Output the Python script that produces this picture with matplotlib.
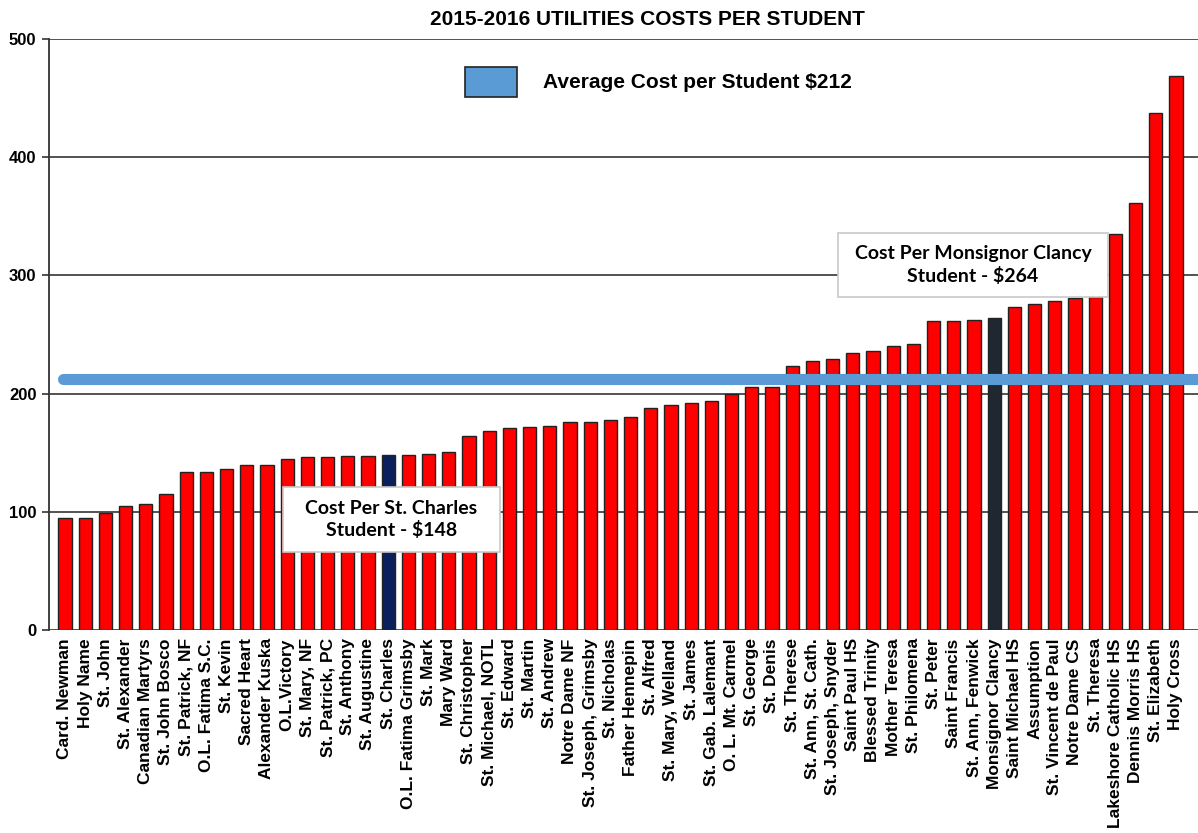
import numpy as np
import matplotlib
matplotlib.use("Agg")
import matplotlib.pyplot as plt
from matplotlib.patches import Rectangle

schools = ["Card. Newman", "Holy Name", "St. John", "St. Alexander", "Canadian Martyrs",
           "St. John Bosco", "St. Patrick, NF", "O.L. Fatima S.C.", "St. Kevin", "Sacred Heart",
           "Alexander Kuska", "O.L.Victory", "St. Mary, NF", "St. Patrick, PC", "St. Anthony",
           "St. Augustine", "St. Charles", "O.L. Fatima Grimsby", "St. Mark", "Mary Ward",
           "St. Christopher", "St. Michael, NOTL", "St. Edward", "St. Martin", "St. Andrew",
           "Notre Dame NF", "St. Joseph, Grimsby", "St. Nicholas", "Father Hennepin", "St. Alfred",
           "St. Mary, Welland", "St. James", "St. Gab. Lalemant", "O. L. Mt. Carmel", "St. George",
           "St. Denis", "St. Therese", "St. Ann, St. Cath.", "St. Joseph, Snyder", "Saint Paul HS",
           "Blessed Trinity", "Mother Teresa", "St. Philomena", "St. Peter", "Saint Francis",
           "St. Ann, Fenwick", "Monsignor Clancy", "Saint Michael HS", "Assumption",
           "St. Vincent de Paul", "Notre Dame CS", "St. Theresa", "Lakeshore Catholic HS",
           "Dennis Morris HS", "St. Elizabeth", "Holy Cross"]

cost = [95, 95, 99, 105, 107, 115, 134, 134, 136, 140,
        140, 145, 146, 146, 147, 147, 148, 148, 149, 151,
        164, 168, 171, 172, 173, 176, 176, 178, 180, 188,
        190, 192, 194, 200, 206, 206, 223, 228, 229, 234,
        236, 240, 242, 261, 261, 262, 264, 273, 276, 278,
        281, 282, 335, 361, 437, 469]

average = 212
highlight = {"St. Charles": "#0b1f5c", "Monsignor Clancy": "#1f2731"}

plt.rcParams['font.family'] = ['Liberation Sans', 'DejaVu Sans']

W, H = 1198, 833
fig = plt.figure(figsize=(W / 100, H / 100), dpi=100)
ax = fig.add_axes([49 / W, 1 - 630 / H, 1 - 49 / W, (630 - 39) / H])

x = np.arange(len(schools))
colors = [highlight.get(s, "#ff0000") for s in schools]
ax.bar(x, cost, width=0.65, color=colors, edgecolor="#222222", linewidth=1.0, zorder=2)

# average line
ax.plot([-0.1, len(schools) + 2], [average, average], color="#5b9bd5", linewidth=8,
        solid_capstyle="round", zorder=3, clip_on=False)

ax.set_xlim(-0.79, 56.09)
ax.set_ylim(0, 500)
ax.set_yticks(range(0, 501, 100))
ax.yaxis.grid(True, color="#444444", linewidth=1.3, zorder=0)
ax.set_axisbelow(True)
for side in ["top", "right", "bottom"]:
    ax.spines[side].set_visible(False)
ax.spines["left"].set_color("#333333")
ax.spines["left"].set_linewidth(1.3)
ax.tick_params(axis="y", length=5, width=1.2, color="#333333", labelsize=12, pad=4)
ax.tick_params(axis="x", length=0, pad=6)
ax.set_xticks(x)
ax.set_xticklabels(schools, rotation=90, fontsize=12.5, fontweight="bold")
for lab in ax.get_yticklabels():
    lab.set_fontweight("bold")

fig.text(647 / W, 1 - 19.5 / H, "2015-2016 UTILITIES COSTS PER STUDENT", ha="center",
         va="center", fontsize=15, fontweight="bold")

# legend-like key
fig.patches.append(Rectangle((465 / W, 1 - 97 / H), 52 / W, 30 / H,
                             transform=fig.transFigure, facecolor="#5b9bd5",
                             edgecolor="#222222", linewidth=1.2))
fig.text(543 / W, 1 - 82 / H, "Average Cost per Student $212", ha="left", va="center",
         fontsize=15, fontweight="bold")

# callout boxes
boxes = [((283, 487, 500, 552), "Cost Per St. Charles\nStudent - $148"),
         ((838, 233, 1108, 297), "Cost Per Monsignor Clancy\nStudent - $264")]
for (x0, y0, x1, y1), txt in boxes:
    fig.patches.append(Rectangle((x0 / W, 1 - y1 / H), (x1 - x0) / W, (y1 - y0) / H,
                                 transform=fig.transFigure, facecolor="white",
                                 edgecolor="#c8c8c8", linewidth=1.2, zorder=5))
    fig.text((x0 + x1) / 2 / W, 1 - (y0 + y1) / 2 / H, txt, ha="center", va="center",
             fontsize=14, fontweight="bold", family=["Lato", "DejaVu Sans"],
             linespacing=1.3, zorder=6)

fig.savefig("out.png", dpi=100)
